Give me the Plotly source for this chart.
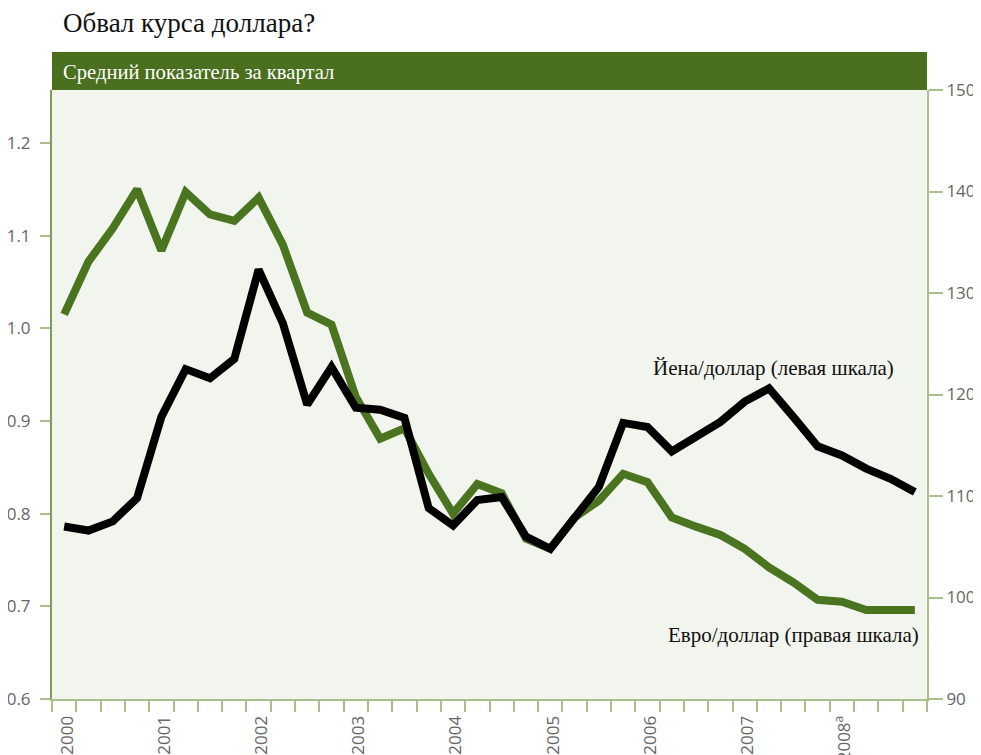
import plotly.graph_objects as go

# ---- data (quarterly averages, 2000Q1 .. 2008Q4) ----
quarters = [f"{y}Q{q}" for y in range(2000, 2009) for q in range(1, 5)]
euro_per_usd = [1.015, 1.072, 1.108, 1.150, 1.084, 1.147, 1.123, 1.116,
                1.141, 1.090, 1.017, 1.004, 0.926, 0.881, 0.892, 0.843,
                0.800, 0.832, 0.822, 0.773, 0.762, 0.796, 0.814, 0.843,
                0.834, 0.796, 0.786, 0.777, 0.762, 0.742, 0.726, 0.707,
                0.705, 0.696, 0.696, 0.696]
yen_per_usd = [107.0, 106.6, 107.5, 109.8, 117.8, 122.5, 121.6, 123.5,
               132.3, 127.0, 119.0, 122.7, 118.7, 118.5, 117.7, 108.8,
               107.1, 109.6, 109.9, 106.0, 104.8, 108.0, 110.9, 117.2,
               116.8, 114.4, 115.8, 117.3, 119.3, 120.6, 117.8, 114.9,
               114.0, 112.7, 111.7, 110.4]
years = list(range(2000, 2009))
year_labels = ["2000", "2001", "2002", "2003", "2004", "2005", "2006", "2007", "2008<sup>a</sup>"]
left_ticks = [0.6, 0.7, 0.8, 0.9, 1.0, 1.1, 1.2]
right_ticks = [90, 100, 110, 120, 130, 140, 150]

title = "Обвал курса доллара?"
subtitle = "Средний показатель за квартал"
label_yen = "Йена/доллар (левая шкала)"
label_euro = "Евро/доллар (правая шкала)"

# quarter midpoints as numeric x
xq = [int(s[:4]) + (int(s[-1]) - 0.5) / 4 for s in quarters]

GREEN = "#4a741f"
DARK = "#4a6f1f"
LIGHT = "#a9bf8c"
TXT = "#666666"

fig = go.Figure()
fig.add_trace(go.Scatter(x=xq, y=euro_per_usd, mode="lines",
                         line=dict(color=GREEN, width=8), yaxis="y",
                         showlegend=False, hoverinfo="skip"))
fig.add_trace(go.Scatter(x=xq, y=yen_per_usd, mode="lines",
                         line=dict(color="#000000", width=8), yaxis="y2",
                         showlegend=False, hoverinfo="skip"))

OFF = 8  # page body margin
W, H = 981 - OFF, 755 - OFF
L = 52 - OFF
T = 90 - OFF
R = W - (927 - OFF)
B = H - (699 - OFF)
pw, ph = W - L - R, H - T - B

def px(xpix):
    return (xpix - OFF - L) / pw

def py(ypix):
    return (H - B - (ypix - OFF)) / ph

fig.update_layout(
    width=W, height=H,
    margin=dict(l=L, r=R, t=T, b=B, pad=0),
    paper_bgcolor="white",
    plot_bgcolor="#f2f4ee",
    font=dict(family="Open Sans", size=17, color=TXT),
    xaxis=dict(
        range=[2000, 2009], showgrid=False, zeroline=False,
        showline=True, linecolor=LIGHT, linewidth=2,
        tickmode="array", tickvals=[y + 0.125 + 0.03 for y in years],
        ticktext=year_labels, tickangle=-90,
        ticks="outside", ticklen=8, tickcolor="rgba(0,0,0,0)",
        minor=dict(ticks="outside", dtick=0.25, tick0=2000, ticklen=11,
                   tickcolor=LIGHT, tickwidth=2, showgrid=False),
        automargin=False,
    ),
    yaxis=dict(
        range=[0.6, 1.2572], showgrid=False, zeroline=False,
        showline=True, linecolor="#7f9c5a", linewidth=2,
        tickmode="array", tickvals=left_ticks,
        ticktext=[f"{v:.1f}" for v in left_ticks],
        ticks="outside", ticklen=10, tickcolor=LIGHT, tickwidth=2,
        ticklabelstandoff=6,
        automargin=False,
    ),
    yaxis2=dict(
        range=[90, 150], overlaying="y", side="right",
        showgrid=False, zeroline=False,
        showline=True, linecolor=LIGHT, linewidth=2,
        tickmode="array", tickvals=right_ticks,
        ticks="outside", ticklen=14, tickcolor=LIGHT, tickwidth=2,
        ticklabelstandoff=0,
        automargin=False,
    ),
)

# green banner
fig.add_shape(type="rect", xref="paper", yref="paper",
              x0=0, x1=1, y0=py(90), y1=py(52),
              fillcolor=DARK, line=dict(width=0), layer="above")

fig.add_annotation(text=title, xref="paper", yref="paper",
                   x=px(61), y=py(23), xanchor="left", yanchor="middle",
                   showarrow=False,
                   font=dict(family="Liberation Serif", size=27, color="#111111"))
fig.add_annotation(text=subtitle, xref="paper", yref="paper",
                   x=px(61), y=py(72), xanchor="left", yanchor="middle",
                   showarrow=False,
                   font=dict(family="Liberation Serif", size=20.6, color="white"))
fig.add_annotation(text=label_yen, xref="paper", yref="paper",
                   x=px(651), y=py(368), xanchor="left", yanchor="middle",
                   showarrow=False,
                   font=dict(family="Liberation Serif", size=21, color="#111111"))
fig.add_annotation(text=label_euro, xref="paper", yref="paper",
                   x=px(921), y=py(635), xanchor="right", yanchor="middle",
                   showarrow=False,
                   font=dict(family="Liberation Serif", size=21, color="#111111"))

fig.write_html("out.html")
